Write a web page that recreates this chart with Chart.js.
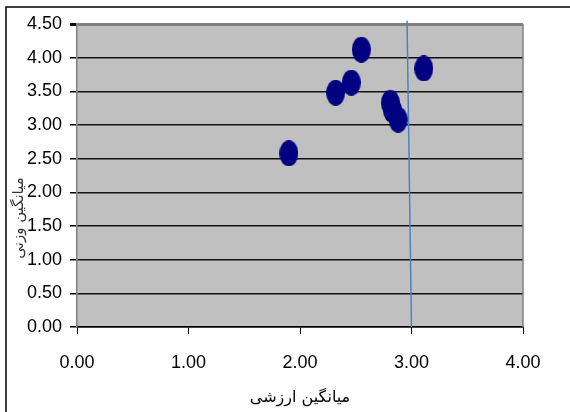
<!DOCTYPE html>
<html>
<head>
<meta charset="utf-8">
<script src="https://cdn.jsdelivr.net/npm/chart.js@4.4.1/dist/chart.umd.min.js"></script>
<style>
  html, body { margin: 0; padding: 0; background: #fff; }
  #wrap { width: 570px; height: 412px; }
</style>
</head>
<body>
<div id="wrap"><canvas id="c" width="570" height="412"></canvas></div>
<script>
// Mean value score (x) and mean weight score (y) for each item
const valueMeans  = [2.55, 3.11, 2.46, 2.32, 2.81, 2.83, 2.88, 1.90];
const weightMeans = [4.12, 3.84, 3.63, 3.48, 3.33, 3.22, 3.08, 2.58];

// Threshold line at value ≈ 3
const thresholdX = [3.00, 2.96];
const thresholdY = [0.00, 4.55];

// Axis ticks
const xTicks = [0, 1, 2, 3, 4];
const yTicks = [0, 0.5, 1, 1.5, 2, 2.5, 3, 3.5, 4, 4.5];

const xTitle = 'میانگین ارزشی';
const yTitle = 'میانگین وزنی';

// Elliptical marker
function ellipseMarker(w, h, color) {
  const cv = document.createElement('canvas');
  cv.width = w; cv.height = h;
  const g = cv.getContext('2d');
  g.fillStyle = color;
  g.beginPath();
  g.ellipse(w / 2, h / 2, w / 2, h / 2, 0, 0, Math.PI * 2);
  g.fill();
  return cv;
}
const marker = ellipseMarker(19, 26, '#000080');

const framePlugin = {
  id: 'frame',
  beforeDraw(chart) {
    const { ctx, chartArea: a } = chart;
    ctx.save();
    ctx.fillStyle = '#ffffff';
    ctx.fillRect(0, 0, chart.width, chart.height);
    ctx.fillStyle = '#c0c0c0';
    ctx.fillRect(a.left, a.top, a.right - a.left, a.bottom - a.top);
    // outer frame (top and left)
    ctx.strokeStyle = '#000';
    ctx.lineWidth = 1.5;
    ctx.beginPath();
    ctx.moveTo(570, 7);
    ctx.lineTo(6, 7);
    ctx.lineTo(6, 412);
    ctx.stroke();
    ctx.restore();
  },
  afterDraw(chart) {
    const { ctx, chartArea: a } = chart;
    ctx.save();
    // right edge of plot area
    ctx.strokeStyle = '#808080';
    ctx.lineWidth = 1.5;
    ctx.beginPath();
    ctx.moveTo(a.right, a.top);
    ctx.lineTo(a.right, a.bottom);
    ctx.stroke();
    // rotated y-axis title
    ctx.translate(19, 218);
    ctx.rotate(-Math.PI / 2);
    ctx.fillStyle = '#333';
    ctx.font = '15px "DejaVu Sans"';
    ctx.textAlign = 'center';
    ctx.textBaseline = 'middle';
    ctx.fillText(yTitle, 0, 0);
    ctx.restore();
  }
};

new Chart(document.getElementById('c'), {
  type: 'scatter',
  data: {
    datasets: [
      {
        type: 'line',
        data: thresholdX.map((x, i) => ({ x, y: thresholdY[i] })),
        borderColor: '#4f81bd',
        borderWidth: 1.5,
        pointRadius: 0,
        fill: false,
        clip: false,
        order: 0
      },
      {
        data: valueMeans.map((x, i) => ({ x, y: weightMeans[i] })),
        pointStyle: marker,
        pointRadius: 10,
        backgroundColor: '#000080',
        borderColor: '#000080',
        order: 1
      }
    ]
  },
  options: {
    responsive: false,
    animation: false,
    events: [],
    layout: { padding: { left: 6, right: 47, top: 24, bottom: 0 } },
    plugins: { legend: { display: false }, tooltip: { enabled: false } },
    scales: {
      x: {
        type: 'linear',
        min: 0, max: 4,
        afterBuildTicks(s) { s.ticks = xTicks.map(v => ({ value: v })); },
        afterFit(s) { s.height = 85; },
        ticks: {
          padding: 18,
          color: '#000',
          font: { family: '"Liberation Sans", Arial, sans-serif', size: 18 },
          callback: v => Number(v).toFixed(2)
        },
        grid: { drawOnChartArea: false, tickLength: 7, tickColor: '#000', tickWidth: 1 },
        border: { display: true, color: '#000', width: 1.5 },
        title: {
          display: true,
          text: xTitle,
          color: '#000',
          font: { family: '"DejaVu Sans"', size: 16 },
          padding: { top: 0, bottom: 5 }
        }
      },
      y: {
        type: 'linear',
        min: 0, max: 4.5,
        afterBuildTicks(s) { s.ticks = yTicks.map(v => ({ value: v })); },
        afterFit(s) { s.width = 71; },
        ticks: {
          padding: 8,
          color: '#000',
          font: { family: '"Liberation Sans", Arial, sans-serif', size: 18 },
          callback: v => Number(v).toFixed(2)
        },
        grid: {
          tickLength: 7,
          tickColor: '#000',
          color: c => (c.tick && c.tick.value === 4.5) ? '#808080' : '#111',
          lineWidth: c => (c.tick && c.tick.value === 4.5) ? 3 : 1.5
        },
        border: { display: true, color: '#808080', width: 1.5 }
      }
    }
  },
  plugins: [framePlugin]
});
</script>
</body>
</html>
